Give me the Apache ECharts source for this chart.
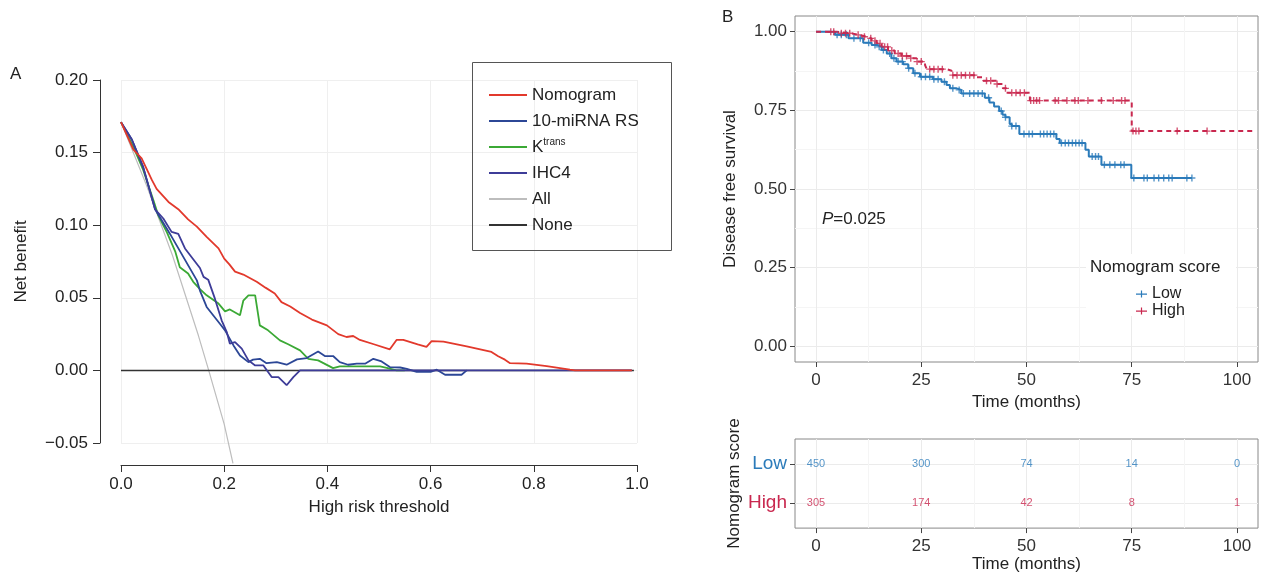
<!DOCTYPE html>
<html>
<head>
<meta charset="utf-8">
<script src="https://cdn.jsdelivr.net/npm/echarts@6/dist/echarts.min.js"></script>
<style>
  html, body { margin: 0; padding: 0; background: #fff; }
  #main { width: 1261px; height: 574px; }
</style>
</head>
<body>
<div id="main"></div>
<script>
// ---- panel A: decision curves, [threshold, net benefit] ----
var nomogramNB = [[0,0.171],[0.024,0.152],[0.04,0.146],[0.06,0.131],[0.069,0.125],[0.092,0.116],[0.111,0.111],[0.13,0.104],[0.147,0.099],[0.166,0.092],[0.189,0.084],[0.2,0.077],[0.21,0.073],[0.221,0.068],[0.237,0.066],[0.263,0.061],[0.28,0.057],[0.298,0.053],[0.311,0.047],[0.328,0.044],[0.347,0.0395],[0.37,0.035],[0.399,0.031],[0.421,0.025],[0.437,0.023],[0.45,0.0237],[0.463,0.021],[0.49,0.018],[0.521,0.0145],[0.534,0.021],[0.547,0.021],[0.575,0.018],[0.592,0.0162],[0.602,0.0202],[0.625,0.0198],[0.67,0.0165],[0.718,0.0127],[0.731,0.0097],[0.744,0.0074],[0.754,0.005],[0.786,0.0046],[0.825,0.003],[0.87,0.0005],[0.88,0],[0.99,0]];
var mirnaNB = [[0,0.171],[0.021,0.159],[0.043,0.14],[0.066,0.111],[0.095,0.094],[0.121,0.078],[0.147,0.062],[0.153,0.055],[0.166,0.0437],[0.192,0.032],[0.2016,0.0276],[0.218,0.0172],[0.2306,0.0103],[0.247,0.0057],[0.256,0.0074],[0.269,0.008],[0.282,0.005],[0.302,0.0057],[0.321,0.0039],[0.341,0.0076],[0.36,0.0085],[0.382,0.013],[0.395,0.0099],[0.411,0.0099],[0.424,0.0057],[0.44,0.0039],[0.457,0.0046],[0.473,0.0046],[0.489,0.008],[0.505,0.0062],[0.521,0.0023],[0.541,0.002],[0.554,0.001],[0.573,-0.001],[0.6,-0.001],[0.612,0.0005],[0.628,-0.003],[0.66,-0.003],[0.67,0]];
var ktransNB = [[0,0.171],[0.024,0.154],[0.043,0.138],[0.063,0.117],[0.072,0.107],[0.089,0.095],[0.105,0.082],[0.114,0.071],[0.13,0.0667],[0.14,0.061],[0.153,0.056],[0.166,0.0517],[0.189,0.046],[0.2016,0.0407],[0.211,0.042],[0.2306,0.038],[0.237,0.048],[0.247,0.0517],[0.26,0.0517],[0.269,0.031],[0.285,0.0276],[0.308,0.0207],[0.324,0.018],[0.347,0.0138],[0.363,0.008],[0.382,0.0069],[0.411,0.0016],[0.424,0.0028],[0.502,0.0028],[0.515,0.0018],[0.534,0],[0.55,0]];
var ihc4NB = [[0,0.171],[0.021,0.159],[0.043,0.14],[0.066,0.111],[0.082,0.1046],[0.098,0.0954],[0.111,0.094],[0.124,0.084],[0.153,0.0705],[0.16,0.0644],[0.169,0.0625],[0.182,0.0494],[0.195,0.0345],[0.205,0.0264],[0.211,0.0184],[0.221,0.0195],[0.234,0.015],[0.247,0.0069],[0.26,0.0034],[0.276,0.0034],[0.292,-0.0046],[0.305,-0.0046],[0.321,-0.0102],[0.334,-0.0046],[0.347,0],[0.99,0]];
var allNB = [[0,0.171],[0.05,0.127],[0.1,0.079],[0.15,0.024],[0.17,0],[0.2,-0.037],[0.217,-0.064]];
var noneNB = [[0,0],[0.994,0]];

// ---- panel B: Kaplan-Meier steps (months, survival) ----
var lowTimes = [0,4.5,7.7,11.2,13.2,14.4,15.6,16.8,17.9,19.1,20.7,21.9,23.1,24.7,27.8,29.8,31,31.8,33.4,34.5,40.1,41.2,42.3,43.5,44.3,45,46,46.5,48.3,57.1,57.9,64,64.8,67.8,74.9,89.3];
var lowSurv  = [1,0.99,0.979,0.965,0.958,0.952,0.942,0.931,0.916,0.905,0.897,0.884,0.868,0.857,0.849,0.841,0.831,0.82,0.815,0.804,0.79,0.775,0.762,0.748,0.736,0.728,0.707,0.7,0.675,0.659,0.646,0.625,0.603,0.577,0.535,0.535];
var highTimes = [0,4.9,8.1,10.4,12,13.2,14.4,15.6,17.1,18.7,20.3,22.3,23.9,25.9,26.3,31,32.2,38.1,39.7,42.9,44.4,45.2,50.8,75,104.5];
var highSurv  = [1,0.995,0.99,0.984,0.979,0.971,0.963,0.952,0.94,0.931,0.923,0.916,0.905,0.894,0.881,0.876,0.862,0.855,0.844,0.834,0.82,0.806,0.781,0.684,0.684];
var lowCensor = [5,6,7.2,9,10.5,12.5,14,15,16,17.5,18.5,19.5,20.5,22,23.5,25,26,27,28,29,30.5,32.5,34,35,36.5,37.5,38.5,39.5,41,44,45,46.5,47.5,49.4,50.6,51.4,53.3,54.1,54.9,55.7,56.5,58.3,59.2,60,60.9,61.7,62.5,63.2,65.6,66.4,67.1,68.5,69.8,71,72.4,73.2,75.5,77.9,78.7,80.3,81.4,82.6,83.8,84.6,88.1,89.3];
var highCensor = [3.5,4.2,6,7,8,10,11.5,13,14,15.2,16.3,17,18,19.5,20.5,21.5,22.5,24,25,27,28,29,30,32.5,33.5,34.5,35.5,36.5,37.5,40.5,41.5,43,45,46.5,47.5,48.5,49.5,51,51.7,52.4,53.1,56.8,57.6,59.6,61.5,62.3,64.6,67.8,70.6,72.6,73.4,75.3,76,76.7,85.8,92.9];

// ---- number at risk ----
var riskTimes = [0, 25, 50, 75, 100];
var riskLow = [450, 300, 74, 14, 0];
var riskHigh = [305, 174, 42, 8, 1];

var FONT = 'Liberation Sans, Arial, sans-serif';
var LOW_C = '#2b7bba';
var HIGH_C = '#c9284f';
var PLUS = 'path://M4,0H6V4H10V6H6V10H4V6H0V4H4Z';
var KM_TICKS = [0, 25, 50, 75, 100];
var KM_MINOR = [12.5, 37.5, 62.5, 87.5];

function pairs(xs, ys) { return xs.map(function (x, i) { return [x, ys[i]]; }); }
// survival level at time t (for placing censor marks on the curve)
function survAt(xs, ys, t) {
  var s = ys[0];
  for (var i = 0; i < xs.length; i++) { if (xs[i] <= t) s = ys[i]; }
  return s;
}

function dca(name, data, color, width, z) {
  return {
    name: name, type: 'line', xAxisIndex: 0, yAxisIndex: 0, data: data,
    symbol: 'none', z: z, lineStyle: { color: color, width: width }, itemStyle: { color: color }
  };
}

var txt = { fontFamily: FONT, fontSize: 17, color: '#222' };

var chart = echarts.init(document.getElementById('main'));
chart.setOption({
  animation: false,
  textStyle: { fontFamily: FONT },
  grid: [
    { left: 121, right: 624, top: 80, bottom: 131 },
    { left: 795, right: 3, top: 16, bottom: 212, show: true, borderColor: '#888', borderWidth: 1 },
    { left: 795, right: 3, top: 439, bottom: 45, show: true, borderColor: '#888', borderWidth: 1 }
  ],
  xAxis: [
    { gridIndex: 0, type: 'value', min: 0, max: 1, interval: 0.2, offset: 22,
      axisLine: { show: true, onZero: false, lineStyle: { color: '#333' } },
      axisTick: { show: true, length: 7, lineStyle: { color: '#333' } },
      axisLabel: { margin: 11, fontSize: 17, color: '#222', formatter: function (v) { return v.toFixed(1); } },
      splitLine: { show: true, lineStyle: { color: '#efefef' } },
      name: 'High risk threshold', nameLocation: 'middle', nameGap: 34, nameTextStyle: txt },
    { gridIndex: 1, type: 'value', min: -5, max: 105,
      axisLine: { show: false, onZero: false },
      axisTick: { show: true, length: 5, customValues: KM_TICKS, lineStyle: { color: '#444' } },
      axisLabel: { margin: 10, fontSize: 17, color: '#333', customValues: KM_TICKS },
      splitLine: { show: true, lineStyle: { color: '#ebebeb' } },
      name: 'Time (months)', nameLocation: 'middle', nameGap: 28, nameTextStyle: txt },
    { gridIndex: 1, type: 'value', min: -5, max: 105,
      axisLine: { show: false }, axisLabel: { show: false },
      axisTick: { show: false, customValues: KM_MINOR },
      splitLine: { show: true, lineStyle: { color: '#f5f5f5' } } },
    { gridIndex: 2, type: 'value', min: -5, max: 105,
      axisLine: { show: false, onZero: false },
      axisTick: { show: true, length: 5, customValues: KM_TICKS, lineStyle: { color: '#444' } },
      axisLabel: { margin: 10, fontSize: 17, color: '#333', customValues: KM_TICKS },
      splitLine: { show: true, lineStyle: { color: '#ebebeb' } },
      name: 'Time (months)', nameLocation: 'middle', nameGap: 24, nameTextStyle: txt },
    { gridIndex: 2, type: 'value', min: -5, max: 105,
      axisLine: { show: false }, axisLabel: { show: false },
      axisTick: { show: false, customValues: KM_MINOR },
      splitLine: { show: true, lineStyle: { color: '#f5f5f5' } } }
  ],
  yAxis: [
    { gridIndex: 0, type: 'value', min: -0.05, max: 0.2, interval: 0.05, offset: 21,
      axisLine: { show: true, onZero: false, lineStyle: { color: '#333' } },
      axisTick: { show: true, length: 7, lineStyle: { color: '#333' } },
      axisLabel: { margin: 12, fontSize: 17, color: '#222', formatter: function (v) {
        if (Math.abs(v) < 1e-9) return '0.00';
        return (v < 0 ? '\u2212' : '') + Math.abs(v).toFixed(2);
      } },
      splitLine: { show: true, lineStyle: { color: '#efefef' } },
      name: 'Net benefit', nameLocation: 'middle', nameGap: 70, nameTextStyle: txt },
    { gridIndex: 1, type: 'value', min: -0.05, max: 1.05,
      axisLine: { show: false, onZero: false },
      axisTick: { show: true, length: 5, customValues: [0, 0.25, 0.5, 0.75, 1], lineStyle: { color: '#444' } },
      axisLabel: { margin: 8, fontSize: 17, color: '#333', customValues: [0, 0.25, 0.5, 0.75, 1],
        formatter: function (v) { return v.toFixed(2); } },
      splitLine: { show: true, lineStyle: { color: '#ebebeb' } },
      name: 'Disease free survival', nameLocation: 'middle', nameGap: 56, nameTextStyle: txt },
    { gridIndex: 1, type: 'value', min: -0.05, max: 1.05,
      axisLine: { show: false }, axisLabel: { show: false },
      axisTick: { show: false, customValues: [0.125, 0.375, 0.625, 0.875] },
      splitLine: { show: true, lineStyle: { color: '#f5f5f5' } } },
    { gridIndex: 2, type: 'value', min: 0.35, max: 2.65,
      axisLine: { show: false, onZero: false },
      axisTick: { show: true, length: 5, customValues: [1, 2], lineStyle: { color: '#444' } },
      axisLabel: { margin: 8, customValues: [1, 2],
        formatter: function (v) { return v > 1.5 ? '{lo|Low}' : '{hi|High}'; },
        rich: { lo: { fontSize: 19, color: LOW_C, fontFamily: FONT }, hi: { fontSize: 19, color: HIGH_C, fontFamily: FONT } } },
      splitLine: { show: true, lineStyle: { color: '#ebebeb' } },
      name: 'Nomogram score', nameLocation: 'middle', nameGap: 52, nameTextStyle: txt }
  ],
  legend: [
    { data: ['Nomogram', '10-miRNA RS', 'Ktrans', 'IHC4', 'All', 'None'],
      orient: 'vertical', left: 484, top: 80, icon: 'rect', itemWidth: 38, itemHeight: 2,
      itemGap: 6, itemTextGap: 11, selectedMode: false,
      formatter: function (n) { return n === 'Ktrans' ? 'K{sup|trans}' : n; },
      textStyle: { fontFamily: FONT, fontSize: 17, color: '#222', lineHeight: 20,
        rich: { sup: { fontFamily: FONT, fontSize: 10, lineHeight: 10, verticalAlign: 'top', color: '#222' } } } },
    { data: ['Low', 'High'], orient: 'vertical', left: 1131, top: 281,
      icon: 'path://M0,4H4.9V1H6.1V4H11V5.2H6.1V8H4.9V5.2H0Z', itemWidth: 11, itemHeight: 9,
      itemGap: 1, itemTextGap: 4, selectedMode: false,
      textStyle: { fontFamily: FONT, fontSize: 16, color: '#222', lineHeight: 16 } }
  ],
  graphic: [
    { type: 'text', left: 10, top: 66, style: { text: 'A', font: '17px ' + FONT, fill: '#222' } },
    { type: 'text', left: 722, top: 9, style: { text: 'B', font: '17px ' + FONT, fill: '#222' } },
    { type: 'rect', shape: { x: 472.5, y: 62.5, width: 199, height: 188 },
      style: { fill: 'none', stroke: '#555', lineWidth: 1 }, z: 5 },
    { type: 'rect', shape: { x: 1086, y: 254, width: 150, height: 62 }, style: { fill: '#fff' }, z: 1 },
    { type: 'text', left: 1090, top: 259, z: 5,
      style: { text: 'Nomogram score', font: '17px ' + FONT, fill: '#222' } },
    { type: 'text', left: 822, top: 211, z: 5,
      style: { text: '{i|P}=0.025', font: '17px ' + FONT, fill: '#222',
        rich: { i: { fontStyle: 'italic', fontSize: 17, fontFamily: FONT, fill: '#222' } } } }
  ],
  series: [
    Object.assign(dca('All', allNB, '#bdbdbd', 1.2, 2), { clip: false }),
    dca('None', noneNB, '#333', 1.5, 3),
    dca('Ktrans', ktransNB, '#3ba935', 1.8, 4),
    dca('10-miRNA RS', mirnaNB, '#2c4796', 1.8, 5),
    dca('IHC4', ihc4NB, '#3d3c98', 1.8, 6),
    dca('Nomogram', nomogramNB, '#e2392c', 1.8, 7),

    { name: 'Low', type: 'line', xAxisIndex: 1, yAxisIndex: 1, step: 'end', symbol: 'none',
      data: pairs(lowTimes, lowSurv), lineStyle: { color: LOW_C, width: 2 }, itemStyle: { color: LOW_C }, z: 3 },
    { name: 'High', type: 'line', xAxisIndex: 1, yAxisIndex: 1, step: 'end', symbol: 'none',
      data: pairs(highTimes, highSurv), lineStyle: { color: HIGH_C, width: 2, type: [5, 4] }, itemStyle: { color: HIGH_C }, z: 3 },
    { name: 'Low censored', type: 'scatter', xAxisIndex: 1, yAxisIndex: 1, symbol: PLUS, symbolSize: 7,
      data: lowCensor.map(function (t) { return [t, survAt(lowTimes, lowSurv, t)]; }), itemStyle: { color: LOW_C }, z: 4 },
    { name: 'High censored', type: 'scatter', xAxisIndex: 1, yAxisIndex: 1, symbol: PLUS, symbolSize: 7,
      data: highCensor.map(function (t) { return [t, survAt(highTimes, highSurv, t)]; }), itemStyle: { color: HIGH_C }, z: 4 },

    { name: 'Low at risk', type: 'scatter', xAxisIndex: 3, yAxisIndex: 3, symbolSize: 1,
      itemStyle: { color: 'rgba(0,0,0,0)' },
      data: riskTimes.map(function (t, i) { return [t, 2, riskLow[i]]; }),
      label: { show: true, position: 'inside', fontSize: 11, color: LOW_C, fontFamily: FONT,
        formatter: function (p) { return p.value[2]; } } },
    { name: 'High at risk', type: 'scatter', xAxisIndex: 3, yAxisIndex: 3, symbolSize: 1,
      itemStyle: { color: 'rgba(0,0,0,0)' },
      data: riskTimes.map(function (t, i) { return [t, 1, riskHigh[i]]; }),
      label: { show: true, position: 'inside', fontSize: 11, color: HIGH_C, fontFamily: FONT,
        formatter: function (p) { return p.value[2]; } } }
  ]
});
</script>
</body>
</html>
